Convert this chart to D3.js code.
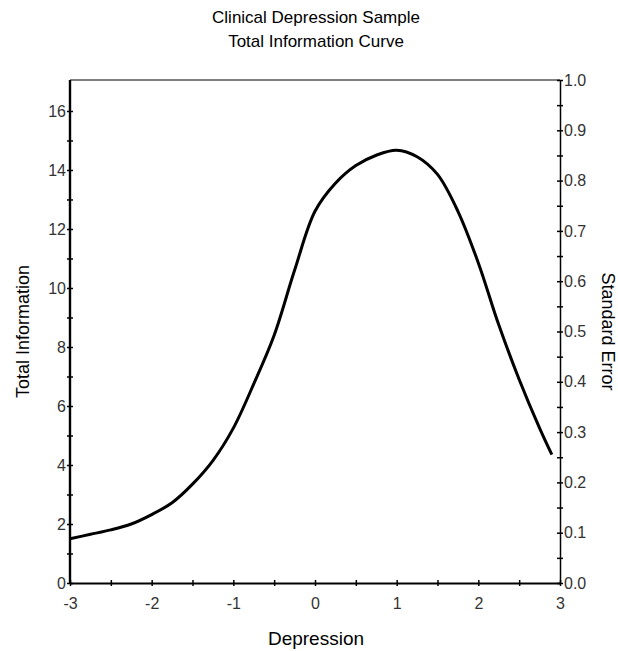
<!DOCTYPE html>
<html>
<head>
<meta charset="utf-8">
<script src="https://cdn.jsdelivr.net/npm/d3@7"></script>
<style>
  body { margin: 0; background: #fff; }
  text { font-family: "Liberation Sans", Arial, sans-serif; }
</style>
</head>
<body>
<div id="chart"></div>
<script>
// Curve values
const theta = [-3, -2.75, -2.5, -2.25, -2, -1.75, -1.5, -1.25, -1, -0.75, -0.5, -0.25,
    0, 0.25, 0.5, 0.75, 1, 1.25, 1.5, 1.75, 2, 2.25, 2.5, 2.75, 2.9];
const information = [1.5, 1.65, 1.8, 2.0, 2.32, 2.72, 3.35, 4.15, 5.25, 6.75, 8.4, 10.6,
    12.6, 13.55, 14.15, 14.5, 14.67, 14.45, 13.85, 12.6, 10.85, 8.75, 6.9, 5.25, 4.35];
const xTicks = [-3, -2, -1, 0, 1, 2, 3];
const leftTicks = [0, 2, 4, 6, 8, 10, 12, 14, 16];
const rightTicks = [0, 0.1, 0.2, 0.3, 0.4, 0.5, 0.6, 0.7, 0.8, 0.9, 1.0];

const W = 618, H = 651;
const margin = { top: 80, right: 58, bottom: 68, left: 70 },
    width = W - margin.left - margin.right,
    height = H - margin.top - margin.bottom;

const svg = d3.select("#chart")
    .append("svg")
    .attr("width", W)
    .attr("height", H);

const g = svg.append("g")
    .attr("transform", "translate(" + margin.left + "," + margin.top + ")");

const x = d3.scaleLinear().domain([-3, 3]).range([0, width]);
const y = d3.scaleLinear().domain([0, 17.05]).range([height, 0]);
const y2 = d3.scaleLinear().domain([0, 1]).range([height, 0]);

// frame: thin top line
g.append("line")
    .attr("x1", 0).attr("x2", width)
    .attr("y1", 0).attr("y2", 0)
    .attr("stroke", "#000").attr("stroke-width", 1);

// helper for crossing ticks
function styleAxis(sel, w) {
    sel.select(".domain").attr("stroke", "#000").attr("stroke-width", w);
    sel.selectAll(".tick line").attr("stroke", "#000").attr("stroke-width", 1.5);
    sel.selectAll(".tick text")
        .attr("fill", "#333")
        .style("font-size", "16px");
}

// bottom axis
const xAxis = g.append("g")
    .attr("transform", "translate(0," + height + ")")
    .call(d3.axisBottom(x).tickValues(d3.range(-3, 3.01, 0.5))
        .tickSize(3).tickSizeOuter(0)
        .tickFormat(d => xTicks.includes(d) ? d3.format("d")(d).replace("−", "-") : ""));
xAxis.selectAll(".tick line").attr("y1", -3);
xAxis.selectAll(".tick text").attr("y", 10).attr("dy", "1em");
styleAxis(xAxis, 2.2);

// left axis
const yAxis = g.append("g")
    .call(d3.axisLeft(y).tickValues(d3.range(0, 17, 1))
        .tickSize(3).tickSizeOuter(0)
        .tickFormat(d => leftTicks.includes(d) ? d : ""));
yAxis.selectAll(".tick line").attr("x1", 3);
yAxis.select(".domain").attr("d", "M0," + height + "V0");
yAxis.selectAll(".tick text").attr("x", -4);
styleAxis(yAxis, 2.4);

// right axis
const rAxis = g.append("g")
    .attr("transform", "translate(" + width + ",0)")
    .call(d3.axisRight(y2).tickValues(d3.range(0, 1.001, 0.05))
        .tickSize(3).tickSizeOuter(0)
        .tickFormat(d => rightTicks.some(t => Math.abs(t - d) < 1e-6) ? d3.format(".1f")(d) : ""));
rAxis.selectAll(".tick line").attr("x1", -3);
rAxis.selectAll(".tick text").attr("x", 4);
styleAxis(rAxis, 1.5);

// the curve
const pts = theta.map((t, i) => [t, information[i]]);
g.append("path")
    .datum(pts)
    .attr("fill", "none")
    .attr("stroke", "#000")
    .attr("stroke-width", 3)
    .attr("stroke-linejoin", "round")
    .attr("d", d3.line()
        .curve(d3.curveCatmullRom.alpha(0.5))
        .x(d => x(d[0]))
        .y(d => y(d[1])));

// titles
svg.append("text")
    .attr("x", 316).attr("y", 23)
    .attr("text-anchor", "middle")
    .style("font-size", "17px")
    .text("Clinical Depression Sample");
svg.append("text")
    .attr("x", 316).attr("y", 47)
    .attr("text-anchor", "middle")
    .style("font-size", "17px")
    .text("Total Information Curve");

svg.append("text")
    .attr("x", 316).attr("y", 645)
    .attr("text-anchor", "middle")
    .style("font-size", "19px")
    .text("Depression");

svg.append("text")
    .attr("transform", "translate(29," + (margin.top + height / 2) + ") rotate(-90)")
    .attr("text-anchor", "middle")
    .style("font-size", "18px")
    .text("Total Information");

svg.append("text")
    .attr("transform", "translate(602," + (margin.top + height / 2) + ") rotate(90)")
    .attr("text-anchor", "middle")
    .style("font-size", "18px")
    .text("Standard Error");
</script>
</body>
</html>
